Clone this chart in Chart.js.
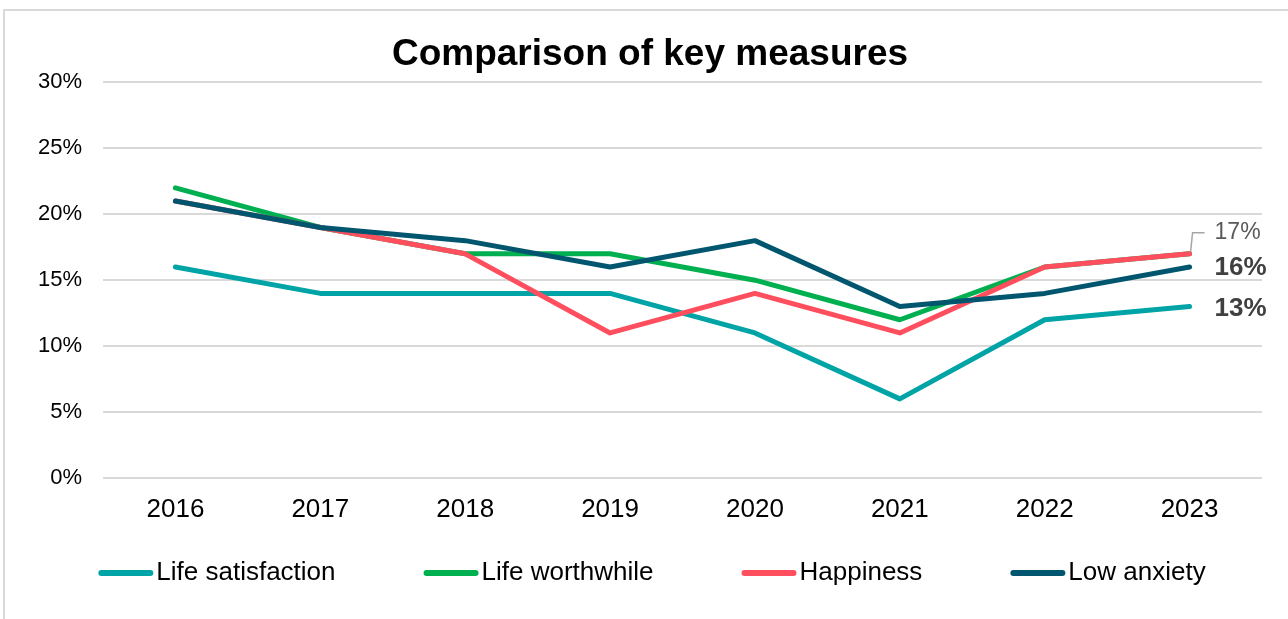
<!DOCTYPE html>
<html lang="en">
  <head>
    <meta charset="UTF-8" />
    <title>Comparison of key measures</title>
    <script src="https://cdn.jsdelivr.net/npm/chart.js"></script>
    <style>
      html, body { margin: 0; padding: 0; background: #fff; }
      #wrap { position: relative; width: 1288px; height: 619px; overflow: hidden; }
      /* light frame of the chart object, cut off by the window */
      #frame {
        position: absolute; left: 3px; top: 9px; width: 1400px; height: 700px;
        border-top: 2px solid #d9d9d9; border-left: 2px solid #d9d9d9;
      }
      canvas { position: absolute; left: 0; top: 0; }
    </style>
  </head>
  <body>
    <div id="wrap">
      <div id="frame"></div>
      <canvas id="measuresChart" width="1288" height="619"></canvas>
    </div>

    <script>
      // data
      const years = ["2016", "2017", "2018", "2019", "2020", "2021", "2022", "2023"];
      const lifeSatisfaction = [16, 14, 14, 14, 11, 6, 12, 13];
      const lifeWorthwhile = [22, 19, 17, 17, 15, 12, 16, 17];
      const happiness = [21, 19, 17, 11, 14, 11, 16, 17];
      const lowAnxiety = [21, 19, 18, 16, 18, 13, 14, 16];
      const seriesNames = ["Life satisfaction", "Life worthwhile", "Happiness", "Low anxiety"];
      const seriesColors = ["#00a4a6", "#00b050", "#ff4f5e", "#00566f"];

      const FONT = "Arial, 'Liberation Sans', sans-serif";

      // labels at the right end of some lines
      const endLabels = [
        { series: 0, bold: true, color: "#404040", dy: 2 },
        { series: 2, bold: false, color: "#595959", dy: -21, leader: true },
        { series: 3, bold: true, color: "#404040", dy: 1 },
      ];

      const endLabelPlugin = {
        id: "endLabels",
        afterDatasetsDraw(chart) {
          const { ctx, scales } = chart;
          const last = years.length - 1;
          const px = scales.x.getPixelForValue(last);
          ctx.save();
          ctx.textAlign = "left";
          ctx.textBaseline = "middle";
          endLabels.forEach((lab) => {
            const v = chart.data.datasets[lab.series].data[last];
            const py = scales.y.getPixelForValue(v);
            const ty = py + lab.dy;
            if (lab.leader) {
              ctx.strokeStyle = "#a6a6a6";
              ctx.lineWidth = 1.5;
              ctx.beginPath();
              ctx.moveTo(px + 1, py - 2);
              ctx.lineTo(px + 3, ty);
              ctx.lineTo(px + 15, ty);
              ctx.stroke();
            }
            ctx.fillStyle = lab.color;
            ctx.font = (lab.bold ? "bold 26px " : "23px ") + FONT;
            ctx.fillText(v + "%", px + 25, ty);
          });
          ctx.restore();
        },
      };

      // legend drawn underneath, spaced like the original
      const legendPlugin = {
        id: "bottomLegend",
        afterDraw(chart) {
          const { ctx } = chart;
          const sw = 55, gapText = 3, gapItem = 88, yMid = 573;
          ctx.save();
          ctx.font = "26px " + FONT;
          const widths = chart.data.datasets.map((d) => ctx.measureText(d.label).width);
          const total = widths.reduce((a, w) => a + sw + gapText + w, 0) + gapItem * (widths.length - 1);
          let x = 652 - total / 2;
          chart.data.datasets.forEach((d, i) => {
            ctx.strokeStyle = d.borderColor;
            ctx.lineWidth = 6;
            ctx.lineCap = "round";
            ctx.beginPath();
            ctx.moveTo(x + 3, yMid);
            ctx.lineTo(x + sw - 3, yMid);
            ctx.stroke();
            ctx.fillStyle = "#000";
            ctx.textAlign = "left";
            ctx.textBaseline = "middle";
            ctx.fillText(d.label, x + sw + gapText, yMid);
            x += sw + gapText + widths[i] + gapItem;
          });
          ctx.restore();
        },
      };

      const seriesData = [lifeSatisfaction, lifeWorthwhile, happiness, lowAnxiety];
      // draw order: teal lowest, navy on top
      const drawOrder = [4, 3, 2, 1];

      const ctx = document.getElementById("measuresChart").getContext("2d");
      new Chart(ctx, {
        type: "line",
        data: {
          labels: years,
          datasets: seriesData.map((vals, i) => ({
            label: seriesNames[i],
            data: vals,
            borderColor: seriesColors[i],
            backgroundColor: seriesColors[i],
            borderWidth: 5,
            borderCapStyle: "round",
            borderJoinStyle: "round",
            pointRadius: 0,
            tension: 0,
            order: drawOrder[i],
          })),
        },
        options: {
          responsive: false,
          animation: false,
          devicePixelRatio: 1,
          layout: { padding: { left: 38, right: 26, top: 0, bottom: 80 } },
          plugins: {
            legend: { display: false },
            tooltip: { enabled: false },
            title: {
              display: true,
              text: "Comparison of key measures",
              color: "#000",
              font: { family: FONT, size: 37, weight: "bold" },
              padding: { top: 33, bottom: 5 },
            },
          },
          scales: {
            x: {
              offset: true,
              grid: { display: false, drawTicks: false },
              border: { display: false },
              ticks: {
                color: "#000",
                font: { family: FONT, size: 26 },
                padding: 16,
                maxRotation: 0,
              },
              afterFit(scale) { scale.height = 61; },
            },
            y: {
              min: 0,
              max: 30,
              grid: { color: "#d9d9d9", lineWidth: 2, drawTicks: false },
              border: { display: false },
              ticks: {
                stepSize: 5,
                color: "#000",
                font: { family: FONT, size: 22 },
                padding: 21,
                callback: (v) => v + "%",
              },
              afterFit(scale) { scale.width = 65; },
            },
          },
        },
        plugins: [endLabelPlugin, legendPlugin],
      });
    </script>
  </body>
</html>
